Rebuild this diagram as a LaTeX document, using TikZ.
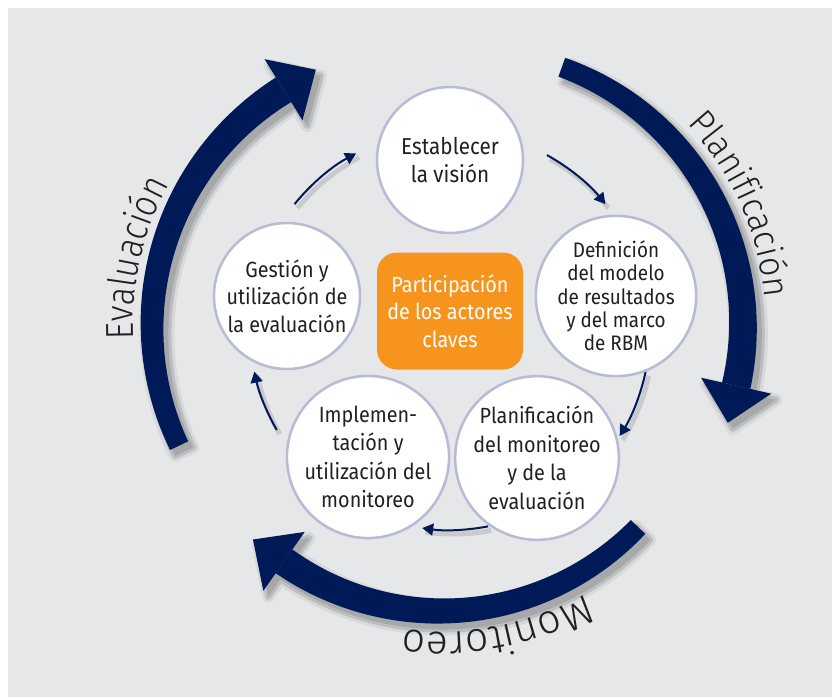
\documentclass[tikz,border=0pt]{standalone}
\usepackage{fontspec}
\setmainfont{Liberation Sans}
\newfontfamily\condfont{Fira Sans}[FakeStretch=0.9]
\newfontfamily\evalfont{Fira Sans Light}[FakeStretch=0.86]
\newfontfamily\planfont{Fira Sans Light}[FakeStretch=0.94]
\newfontfamily\monifont{Fira Sans Light}[FakeStretch=1.0]
\usetikzlibrary{arrows.meta,decorations.text,calc}
\definecolor{bggray}{RGB}{230,231,233}
\definecolor{navy}{RGB}{0,26,87}
\definecolor{ring}{RGB}{184,186,214}
\definecolor{orangebox}{RGB}{247,148,29}
\definecolor{txt}{RGB}{35,31,32}
% tapered band: cx cy R start end w1 w2
\newcommand\bandshape[7]{%
  plot[domain=#4:#5,samples=50,variable=\t] ({#1+(#3+(#6+(#7-#6)*(\t-#4)/(#5-#4))/2)*cos(\t)},{#2+(#3+(#6+(#7-#6)*(\t-#4)/(#5-#4))/2)*sin(\t)})
  -- plot[domain=#5:#4,samples=50,variable=\t] ({#1+(#3-(#6+(#7-#6)*(\t-#4)/(#5-#4))/2)*cos(\t)},{#2+(#3-(#6+(#7-#6)*(\t-#4)/(#5-#4))/2)*sin(\t)}) -- cycle}
% head: cx cy R theta
\newcommand\bandhead[4]{%
  ($(#1,#2)+({#4}:{#3+36})$) -- ($(#1,#2)+({#4}:{#3})+({#4+90}:38)$) -- ($(#1,#2)+({#4}:{#3-36})$) -- cycle}
\newcommand\bigarrow[7]{%
  \begin{scope}[transparency group, opacity=0.35, shift={(5,6)}]
    \filldraw[black!25, line width=12, line join=round] \bandshape{#1}{#2}{#3}{#4}{#5}{#6}{#7};
    \filldraw[black!25, line width=12, line join=round] \bandhead{#1}{#2}{#3}{#5};
    \filldraw[black!55, line width=6, line join=round] \bandshape{#1}{#2}{#3}{#4}{#5}{#6}{#7};
    \filldraw[black!55, line width=6, line join=round] \bandhead{#1}{#2}{#3}{#5};
    \fill[black!80] \bandshape{#1}{#2}{#3}{#4}{#5}{#6}{#7};
    \fill[black!80] \bandhead{#1}{#2}{#3}{#5};
  \end{scope}
  \fill[navy] \bandshape{#1}{#2}{#3}{#4}{#5}{#6}{#7};
  \fill[navy] \bandhead{#1}{#2}{#3}{#5};
}
\tikzset{
  stage/.style={circle, draw=ring, line width=2.5, fill=white, minimum size=146, inner sep=0pt,
    align=center, text=txt, font=\condfont\fontsize{22}{27.5}\selectfont},
  keybox/.style={rectangle, rounded corners=20, fill=orangebox, minimum width=146, minimum height=117,
    align=center, text=white, font=\condfont\fontsize{22}{27.5}\selectfont},
  cyclearrow/.style={navy, line width=2, -{Triangle[length=11pt,width=12pt]}},
  cycleshadow/.style={black, opacity=0.12, line width=5},
}
\begin{document}
\begin{tikzpicture}[x=1pt,y=-1pt]
\useasboundingbox (0,0) rectangle (832,697);
\fill[white] (0,0) rectangle (832,697);
\fill[bggray] (8,8) rectangle (832,697);

% big outer arrows
\bigarrow{430}{326}{278}{154.5}{238.2}{20}{29}
\bigarrow{469}{325}{274}{-70.2}{12.8}{20}{29}
\bigarrow{441}{338}{273}{43.8}{125.1}{20}{29}

% outer labels
\path[decorate, decoration={text along path, text={|\evalfont\fontsize{39}{39}\selectfont|Evaluación}, text align=center, text color=txt}]
  (430,326) ++(166:297) arc[start angle=166, end angle=220, radius=297];
\path[decorate, decoration={text along path, text={|\planfont\fontsize{36}{36}\selectfont|Planificación}, text align=center, text color=txt}]
  (469,325) ++(-49:297) arc[start angle=-49, end angle=1, radius=297];
\path[decorate, decoration={text along path, text={|\monifont\fontsize{41}{41}\selectfont|Monitoreo}, text align=center, text color=txt}]
  (441,338) ++(49:294) arc[start angle=49, end angle=109, radius=294];

% small cycle arrows (shadows)
\foreach \a/\b in {-141/-118, -61/-39, 12/32, 79/98, 150/168}{
  \draw[cycleshadow] (453,334) ++(\a:200) arc[start angle=\a, end angle=\b, radius=200];
}
\foreach \a/\b in {-141/-118, -61/-39, 12/32, 79/98, 150/168}{
  \draw[cyclearrow] (450,330) ++(\a:200) arc[start angle=\a, end angle=\b, radius=200];
}

% stage circles
\node[stage, font=\condfont\fontsize{23}{27.5}\selectfont] (vision) at (450,160) {Establecer\\la visión};
\node[stage, font=\condfont\fontsize{21}{23.3}\selectfont] (modelo) at (616,296)
  {Definición\\del modelo\\de resultados\\y del marco\\de RBM};
\node[stage, font=\condfont\fontsize{22}{28.5}\selectfont] (plan) at (537,458)
  {Planificación\\del monitoreo\\y de la\\evaluación};
\node[stage, font=\condfont\fontsize{22}{28.3}\selectfont] (impl) at (368,457)
  {Implemen-\\tación y\\utilización del\\monitoreo};
\node[stage] (gest) at (287,296) {Gestión y\\utilización de\\la evaluación};
\node[keybox] (actores) at (450,311) {Participación\\de los actores\\claves};
\end{tikzpicture}
\end{document}
